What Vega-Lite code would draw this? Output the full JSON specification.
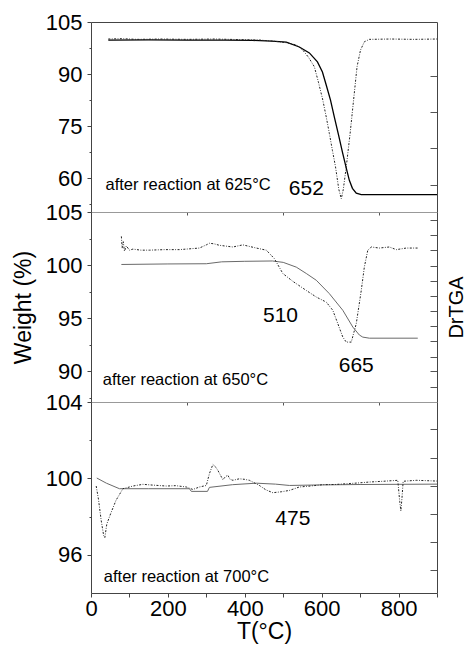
{
  "$schema": "https://vega.github.io/schema/vega-lite/v6.json",
  "padding": {"left": 12, "top": 11, "right": 0, "bottom": 5},
  "spacing": 0,
  "bounds": "flush",
  "config": {
    "view": {"stroke": null},
    "font": "Liberation Sans",
    "axis": {"grid": false, "labelFont": "Liberation Sans", "titleFont": "Liberation Sans", "titleFontWeight": "normal", "labelColor": "#000", "titleColor": "#000"}
  },
  "datasets": {
    "p1": [
      {"s":"TGA","T":45,"v":99.8},{"s":"TGA","T":150,"v":99.85},{"s":"TGA","T":250,"v":99.8},{"s":"TGA","T":350,"v":99.8},{"s":"TGA","T":420,"v":99.7},{"s":"TGA","T":470,"v":99.5},{"s":"TGA","T":508,"v":99.2},{"s":"TGA","T":542,"v":97.8},{"s":"TGA","T":568,"v":96.1},{"s":"TGA","T":589,"v":93.5},{"s":"TGA","T":602,"v":90.6},{"s":"TGA","T":612,"v":86.8},{"s":"TGA","T":623,"v":82.5},{"s":"TGA","T":633,"v":77.6},{"s":"TGA","T":644,"v":72.4},{"s":"TGA","T":654,"v":67.5},{"s":"TGA","T":664,"v":62.9},{"s":"TGA","T":672,"v":59.4},{"s":"TGA","T":680,"v":57.1},{"s":"TGA","T":690,"v":55.7},{"s":"TGA","T":703,"v":55.3},{"s":"TGA","T":800,"v":55.3},{"s":"TGA","T":900,"v":55.3},
      {"s":"DTG","T":45,"v":100.1},{"s":"DTG","T":80,"v":100.2},{"s":"DTG","T":120,"v":100.0},{"s":"DTG","T":180,"v":100.1},{"s":"DTG","T":250,"v":100.0},{"s":"DTG","T":320,"v":100.1},{"s":"DTG","T":400,"v":99.9},{"s":"DTG","T":440,"v":99.8},{"s":"DTG","T":482,"v":99.4},{"s":"DTG","T":510,"v":99.0},{"s":"DTG","T":534,"v":98.4},{"s":"DTG","T":551,"v":96.9},{"s":"DTG","T":566,"v":94.8},{"s":"DTG","T":581,"v":92.1},{"s":"DTG","T":592,"v":87.5},{"s":"DTG","T":603,"v":82.5},{"s":"DTG","T":612,"v":77.6},{"s":"DTG","T":620,"v":72.9},{"s":"DTG","T":628,"v":68},{"s":"DTG","T":636,"v":63.3},{"s":"DTG","T":644.6,"v":56.8},{"s":"DTG","T":651,"v":54.1},{"s":"DTG","T":656.3,"v":56.8},{"s":"DTG","T":664,"v":63.3},{"s":"DTG","T":674,"v":72.9},{"s":"DTG","T":683,"v":82.5},{"s":"DTG","T":692,"v":92.1},{"s":"DTG","T":701,"v":96.9},{"s":"DTG","T":711,"v":99.3},{"s":"DTG","T":724,"v":100.0},{"s":"DTG","T":780,"v":100.1},{"s":"DTG","T":840,"v":100.0},{"s":"DTG","T":900,"v":100.1}
    ],
    "p2": [
      {"s":"TGA","T":79,"v":100.05},{"s":"TGA","T":200,"v":100.1},{"s":"TGA","T":300,"v":100.12},{"s":"TGA","T":340,"v":100.3},{"s":"TGA","T":400,"v":100.35},{"s":"TGA","T":472,"v":100.38},{"s":"TGA","T":500,"v":100.25},{"s":"TGA","T":534,"v":99.8},{"s":"TGA","T":560,"v":99.2},{"s":"TGA","T":586,"v":98.56},{"s":"TGA","T":620,"v":97.3},{"s":"TGA","T":655,"v":95.73},{"s":"TGA","T":681,"v":94.15},{"s":"TGA","T":698,"v":93.4},{"s":"TGA","T":707,"v":93.2},{"s":"TGA","T":724,"v":93.1},{"s":"TGA","T":850,"v":93.1},
      {"s":"DTG","T":79,"v":102.7},{"s":"DTG","T":81,"v":101.6},{"s":"DTG","T":84,"v":102.2},{"s":"DTG","T":87,"v":101.3},{"s":"DTG","T":92,"v":101.8},{"s":"DTG","T":100,"v":101.4},{"s":"DTG","T":109,"v":101.5},{"s":"DTG","T":130,"v":101.4},{"s":"DTG","T":152,"v":101.4},{"s":"DTG","T":190,"v":101.45},{"s":"DTG","T":230,"v":101.45},{"s":"DTG","T":282,"v":101.6},{"s":"DTG","T":300,"v":101.9},{"s":"DTG","T":308,"v":102.05},{"s":"DTG","T":320,"v":102.0},{"s":"DTG","T":334,"v":101.86},{"s":"DTG","T":369,"v":101.7},{"s":"DTG","T":395,"v":101.9},{"s":"DTG","T":430,"v":101.6},{"s":"DTG","T":456,"v":101.4},{"s":"DTG","T":477,"v":100.6},{"s":"DTG","T":499,"v":99.2},{"s":"DTG","T":525,"v":98.46},{"s":"DTG","T":560,"v":97.6},{"s":"DTG","T":586,"v":96.98},{"s":"DTG","T":612,"v":96.5},{"s":"DTG","T":629,"v":95.73},{"s":"DTG","T":642,"v":94.47},{"s":"DTG","T":655,"v":93.2},{"s":"DTG","T":664,"v":92.73},{"s":"DTG","T":677,"v":92.73},{"s":"DTG","T":690,"v":94.47},{"s":"DTG","T":703,"v":97.6},{"s":"DTG","T":711,"v":99.81},{"s":"DTG","T":720,"v":101.4},{"s":"DTG","T":729,"v":101.7},{"s":"DTG","T":750,"v":101.6},{"s":"DTG","T":776,"v":101.7},{"s":"DTG","T":794,"v":101.45},{"s":"DTG","T":820,"v":101.6},{"s":"DTG","T":850,"v":101.6}
    ],
    "p3": [
      {"s":"TGA","T":15,"v":100.02},{"s":"TGA","T":40,"v":99.75},{"s":"TGA","T":74,"v":99.46},{"s":"TGA","T":150,"v":99.46},{"s":"TGA","T":256,"v":99.46},{"s":"TGA","T":261,"v":99.32},{"s":"TGA","T":303,"v":99.32},{"s":"TGA","T":308,"v":99.53},{"s":"TGA","T":368,"v":99.67},{"s":"TGA","T":430,"v":99.75},{"s":"TGA","T":480,"v":99.7},{"s":"TGA","T":516,"v":99.63},{"s":"TGA","T":600,"v":99.66},{"s":"TGA","T":700,"v":99.68},{"s":"TGA","T":800,"v":99.69},{"s":"TGA","T":900,"v":99.7},
      {"s":"DTG","T":13.5,"v":99.6},{"s":"DTG","T":19.5,"v":98.9},{"s":"DTG","T":26.5,"v":97.8},{"s":"DTG","T":33,"v":97.0},{"s":"DTG","T":36,"v":96.9},{"s":"DTG","T":41,"v":97.6},{"s":"DTG","T":51,"v":98.15},{"s":"DTG","T":65,"v":98.85},{"s":"DTG","T":83,"v":99.46},{"s":"DTG","T":100,"v":99.55},{"s":"DTG","T":109,"v":99.6},{"s":"DTG","T":135,"v":99.69},{"s":"DTG","T":160,"v":99.65},{"s":"DTG","T":196,"v":99.6},{"s":"DTG","T":220,"v":99.62},{"s":"DTG","T":248,"v":99.55},{"s":"DTG","T":265,"v":99.42},{"s":"DTG","T":282,"v":99.55},{"s":"DTG","T":300,"v":99.63},{"s":"DTG","T":308,"v":100.25},{"s":"DTG","T":317,"v":100.73},{"s":"DTG","T":324,"v":100.6},{"s":"DTG","T":330,"v":100.42},{"s":"DTG","T":343,"v":99.93},{"s":"DTG","T":350,"v":100.1},{"s":"DTG","T":356,"v":100.16},{"s":"DTG","T":362,"v":99.95},{"s":"DTG","T":369,"v":99.9},{"s":"DTG","T":386,"v":99.98},{"s":"DTG","T":400,"v":99.95},{"s":"DTG","T":412,"v":99.9},{"s":"DTG","T":438,"v":99.63},{"s":"DTG","T":455,"v":99.4},{"s":"DTG","T":473,"v":99.25},{"s":"DTG","T":495,"v":99.3},{"s":"DTG","T":516,"v":99.37},{"s":"DTG","T":542,"v":99.55},{"s":"DTG","T":570,"v":99.6},{"s":"DTG","T":603,"v":99.67},{"s":"DTG","T":634,"v":99.68},{"s":"DTG","T":664,"v":99.72},{"s":"DTG","T":694,"v":99.76},{"s":"DTG","T":724,"v":99.81},{"s":"DTG","T":760,"v":99.85},{"s":"DTG","T":798,"v":99.9},{"s":"DTG","T":803,"v":98.8},{"s":"DTG","T":806,"v":98.3},{"s":"DTG","T":809,"v":99.0},{"s":"DTG","T":812,"v":99.85},{"s":"DTG","T":846,"v":99.9},{"s":"DTG","T":875,"v":99.88},{"s":"DTG","T":900,"v":99.86}
    ],
    "notes": [
      {"p":1,"kind":"note","T":37.7,"v":56.54,"label":"after reaction at 625°C"},
      {"p":1,"kind":"peak","T":560,"v":55.1,"label":"652"},
      {"p":2,"kind":"note","T":30.7,"v":88.65,"label":"after reaction at 650°C"},
      {"p":2,"kind":"peak","T":493,"v":94.62,"label":"510"},
      {"p":2,"kind":"peak","T":690,"v":89.91,"label":"665"},
      {"p":3,"kind":"note","T":33.3,"v":94.56,"label":"after reaction at 700°C"},
      {"p":3,"kind":"peak","T":525,"v":97.54,"label":"475"}
    ]
  },
  "vconcat": [
    {
      "width": 346, "height": 190,
      "layer": [
        {
          "data": {"name": "p1"},
          "transform": [{"filter": "datum.s === 'TGA'"}],
          "mark": {"type": "line", "color": "#000", "strokeWidth": 1.3},
          "encoding": {
            "x": {"field": "T", "type": "quantitative", "scale": {"domain": [0, 900], "nice": false},
                  "axis": {"orient": "bottom", "values": [250, 500, 750], "labels": false, "tickSize": 3, "tickColor": "#555", "domainColor": "#999", "title": null}},
            "y": {"field": "v", "type": "quantitative", "scale": {"domain": [50.28, 105], "nice": false, "zero": false},
                  "axis": {"orient": "left", "values": [52.5, 60, 67.5, 75, 82.5, 90, 97.5, 105], "labelExpr": "datum.value % 15 === 0 ? datum.label : ''",
                           "tickSize": {"condition": {"test": "datum.value % 15 === 0", "value": 4}, "value": 2},
                           "labelFontSize": 22, "labelPadding": 5, "domainColor": "#444", "tickColor": "#444", "title": null, "labelOverlap": false}}
          }
        },
        {
          "data": {"name": "p1"},
          "transform": [{"filter": "datum.s === 'DTG'"}],
          "mark": {"type": "line", "color": "#222", "strokeWidth": 1, "strokeDash": [2, 1.5, 0.8, 1.5]},
          "encoding": {
            "x": {"field": "T", "type": "quantitative", "scale": {"domain": [0, 900], "nice": false},
                  "axis": {"orient": "top", "ticks": false, "labels": false, "domainColor": "#444", "title": null}},
            "y": {"field": "v", "type": "quantitative", "scale": {"domain": [50.28, 105], "nice": false, "zero": false},
                  "axis": {"orient": "right", "values": [58.18, 68.74, 79.13, 89.42], "labels": false, "tickSize": -7, "domainColor": "#444", "tickColor": "#555", "title": null}}
          }
        },
        {
          "data": {"name": "notes"},
          "transform": [{"filter": "datum.p === 1 && datum.kind === 'note'"}],
          "mark": {"type": "text", "align": "left", "baseline": "alphabetic", "fontSize": 16.5, "color": "#000"},
          "encoding": {
            "x": {"field": "T", "type": "quantitative", "axis": null},
            "y": {"field": "v", "type": "quantitative", "axis": null},
            "text": {"field": "label"}
          }
        },
        {
          "data": {"name": "notes"},
          "transform": [{"filter": "datum.p === 1 && datum.kind === 'peak'"}],
          "mark": {"type": "text", "align": "center", "baseline": "alphabetic", "fontSize": 21, "color": "#000"},
          "encoding": {
            "x": {"field": "T", "type": "quantitative", "axis": null},
            "y": {"field": "v", "type": "quantitative", "axis": null},
            "text": {"field": "label"}
          }
        }
      ],
      "resolve": {"axis": {"x": "independent", "y": "independent"}}
    },
    {
      "width": 346, "height": 190,
      "layer": [
        {
          "data": {"name": "p2"},
          "transform": [{"filter": "datum.s === 'TGA'"}],
          "mark": {"type": "line", "color": "#6a6a6a", "strokeWidth": 1},
          "encoding": {
            "x": {"field": "T", "type": "quantitative", "scale": {"domain": [0, 900], "nice": false},
                  "axis": {"orient": "bottom", "values": [250, 500, 750], "labels": false, "tickSize": 3, "tickColor": "#555", "domainColor": "#999", "title": null}},
            "y": {"field": "v", "type": "quantitative", "scale": {"domain": [87.08, 105], "nice": false, "zero": false},
                  "axis": {"orient": "left", "values": [87.5, 90, 92.5, 95, 97.5, 100, 102.5, 105], "labelExpr": "datum.value % 5 === 0 ? datum.label : ''",
                           "tickSize": {"condition": {"test": "datum.value % 5 === 0", "value": 4}, "value": 2},
                           "labelFontSize": 22, "labelPadding": 5, "domainColor": "#444", "tickColor": "#444", "labelOverlap": false,
                           "title": "Weight (%)", "titleFontSize": 23, "titlePadding": 10}}
          }
        },
        {
          "data": {"name": "p2"},
          "transform": [{"filter": "datum.s === 'DTG'"}],
          "mark": {"type": "line", "color": "#222", "strokeWidth": 1, "strokeDash": [2, 1.5, 0.8, 1.5]},
          "encoding": {
            "x": {"field": "T", "type": "quantitative", "scale": {"domain": [0, 900], "nice": false}, "axis": null},
            "y": {"field": "v", "type": "quantitative", "scale": {"domain": [87.08, 105], "nice": false, "zero": false},
                  "axis": {"orient": "right", "values": [88.49, 89.97, 91.32, 92.8, 94.22, 95.63, 97.08, 98.49, 99.94, 101.45, 102.8, 104.25], "labels": false, "tickSize": -7, "domainColor": "#444", "tickColor": "#555",
                           "title": "DrTGA", "titleFontSize": 20, "titleAngle": -90, "titleBaseline": "top", "titlePadding": 9}}
          }
        },
        {
          "data": {"name": "notes"},
          "transform": [{"filter": "datum.p === 2 && datum.kind === 'note'"}],
          "mark": {"type": "text", "align": "left", "baseline": "alphabetic", "fontSize": 16.5, "color": "#000"},
          "encoding": {
            "x": {"field": "T", "type": "quantitative", "axis": null},
            "y": {"field": "v", "type": "quantitative", "axis": null},
            "text": {"field": "label"}
          }
        },
        {
          "data": {"name": "notes"},
          "transform": [{"filter": "datum.p === 2 && datum.kind === 'peak'"}],
          "mark": {"type": "text", "align": "center", "baseline": "alphabetic", "fontSize": 21, "color": "#000"},
          "encoding": {
            "x": {"field": "T", "type": "quantitative", "axis": null},
            "y": {"field": "v", "type": "quantitative", "axis": null},
            "text": {"field": "label"}
          }
        }
      ],
      "resolve": {"axis": {"x": "independent", "y": "independent"}}
    },
    {
      "width": 346, "height": 191,
      "layer": [
        {
          "data": {"name": "p3"},
          "transform": [{"filter": "datum.s === 'TGA'"}],
          "mark": {"type": "line", "color": "#6a6a6a", "strokeWidth": 1},
          "encoding": {
            "x": {"field": "T", "type": "quantitative", "scale": {"domain": [0, 900], "nice": false},
                  "axis": {"orient": "bottom", "values": [0, 100, 200, 300, 400, 500, 600, 700, 800, 900], "labelExpr": "datum.value % 200 === 0 && datum.value < 900 ? datum.label : ''",
                           "tickSize": 4, "labelFontSize": 22, "labelPadding": 1, "labelFlush": false, "labelOverlap": false, "domainColor": "#444", "tickColor": "#444",
                           "title": "T(°C)", "titleFontSize": 23, "titlePadding": 1}},
            "y": {"field": "v", "type": "quantitative", "scale": {"domain": [94, 104], "nice": false, "zero": false},
                  "axis": {"orient": "left", "values": [96, 98, 100, 102, 104], "labelExpr": "datum.value % 4 === 0 ? datum.label : ''",
                           "tickSize": {"condition": {"test": "datum.value % 4 === 0", "value": 4}, "value": 2},
                           "labelFontSize": 22, "labelPadding": 5, "domainColor": "#444", "tickColor": "#444", "title": null, "labelOverlap": false}}
          }
        },
        {
          "data": {"name": "p3"},
          "transform": [{"filter": "datum.s === 'DTG'"}],
          "mark": {"type": "line", "color": "#222", "strokeWidth": 1, "strokeDash": [2, 1.5, 0.8, 1.5]},
          "encoding": {
            "x": {"field": "T", "type": "quantitative", "scale": {"domain": [0, 900], "nice": false}, "axis": null},
            "y": {"field": "v", "type": "quantitative", "scale": {"domain": [94, 104], "nice": false, "zero": false},
                  "axis": {"orient": "right", "values": [95.18, 96.65, 98.11, 99.6, 101.09, 102.57], "labels": false, "tickSize": -7, "domainColor": "#444", "tickColor": "#555", "title": null}}
          }
        },
        {
          "data": {"name": "notes"},
          "transform": [{"filter": "datum.p === 3 && datum.kind === 'note'"}],
          "mark": {"type": "text", "align": "left", "baseline": "alphabetic", "fontSize": 16.5, "color": "#000"},
          "encoding": {
            "x": {"field": "T", "type": "quantitative", "axis": null},
            "y": {"field": "v", "type": "quantitative", "axis": null},
            "text": {"field": "label"}
          }
        },
        {
          "data": {"name": "notes"},
          "transform": [{"filter": "datum.p === 3 && datum.kind === 'peak'"}],
          "mark": {"type": "text", "align": "center", "baseline": "alphabetic", "fontSize": 21, "color": "#000"},
          "encoding": {
            "x": {"field": "T", "type": "quantitative", "axis": null},
            "y": {"field": "v", "type": "quantitative", "axis": null},
            "text": {"field": "label"}
          }
        }
      ],
      "resolve": {"axis": {"x": "independent", "y": "independent"}}
    }
  ]
}
